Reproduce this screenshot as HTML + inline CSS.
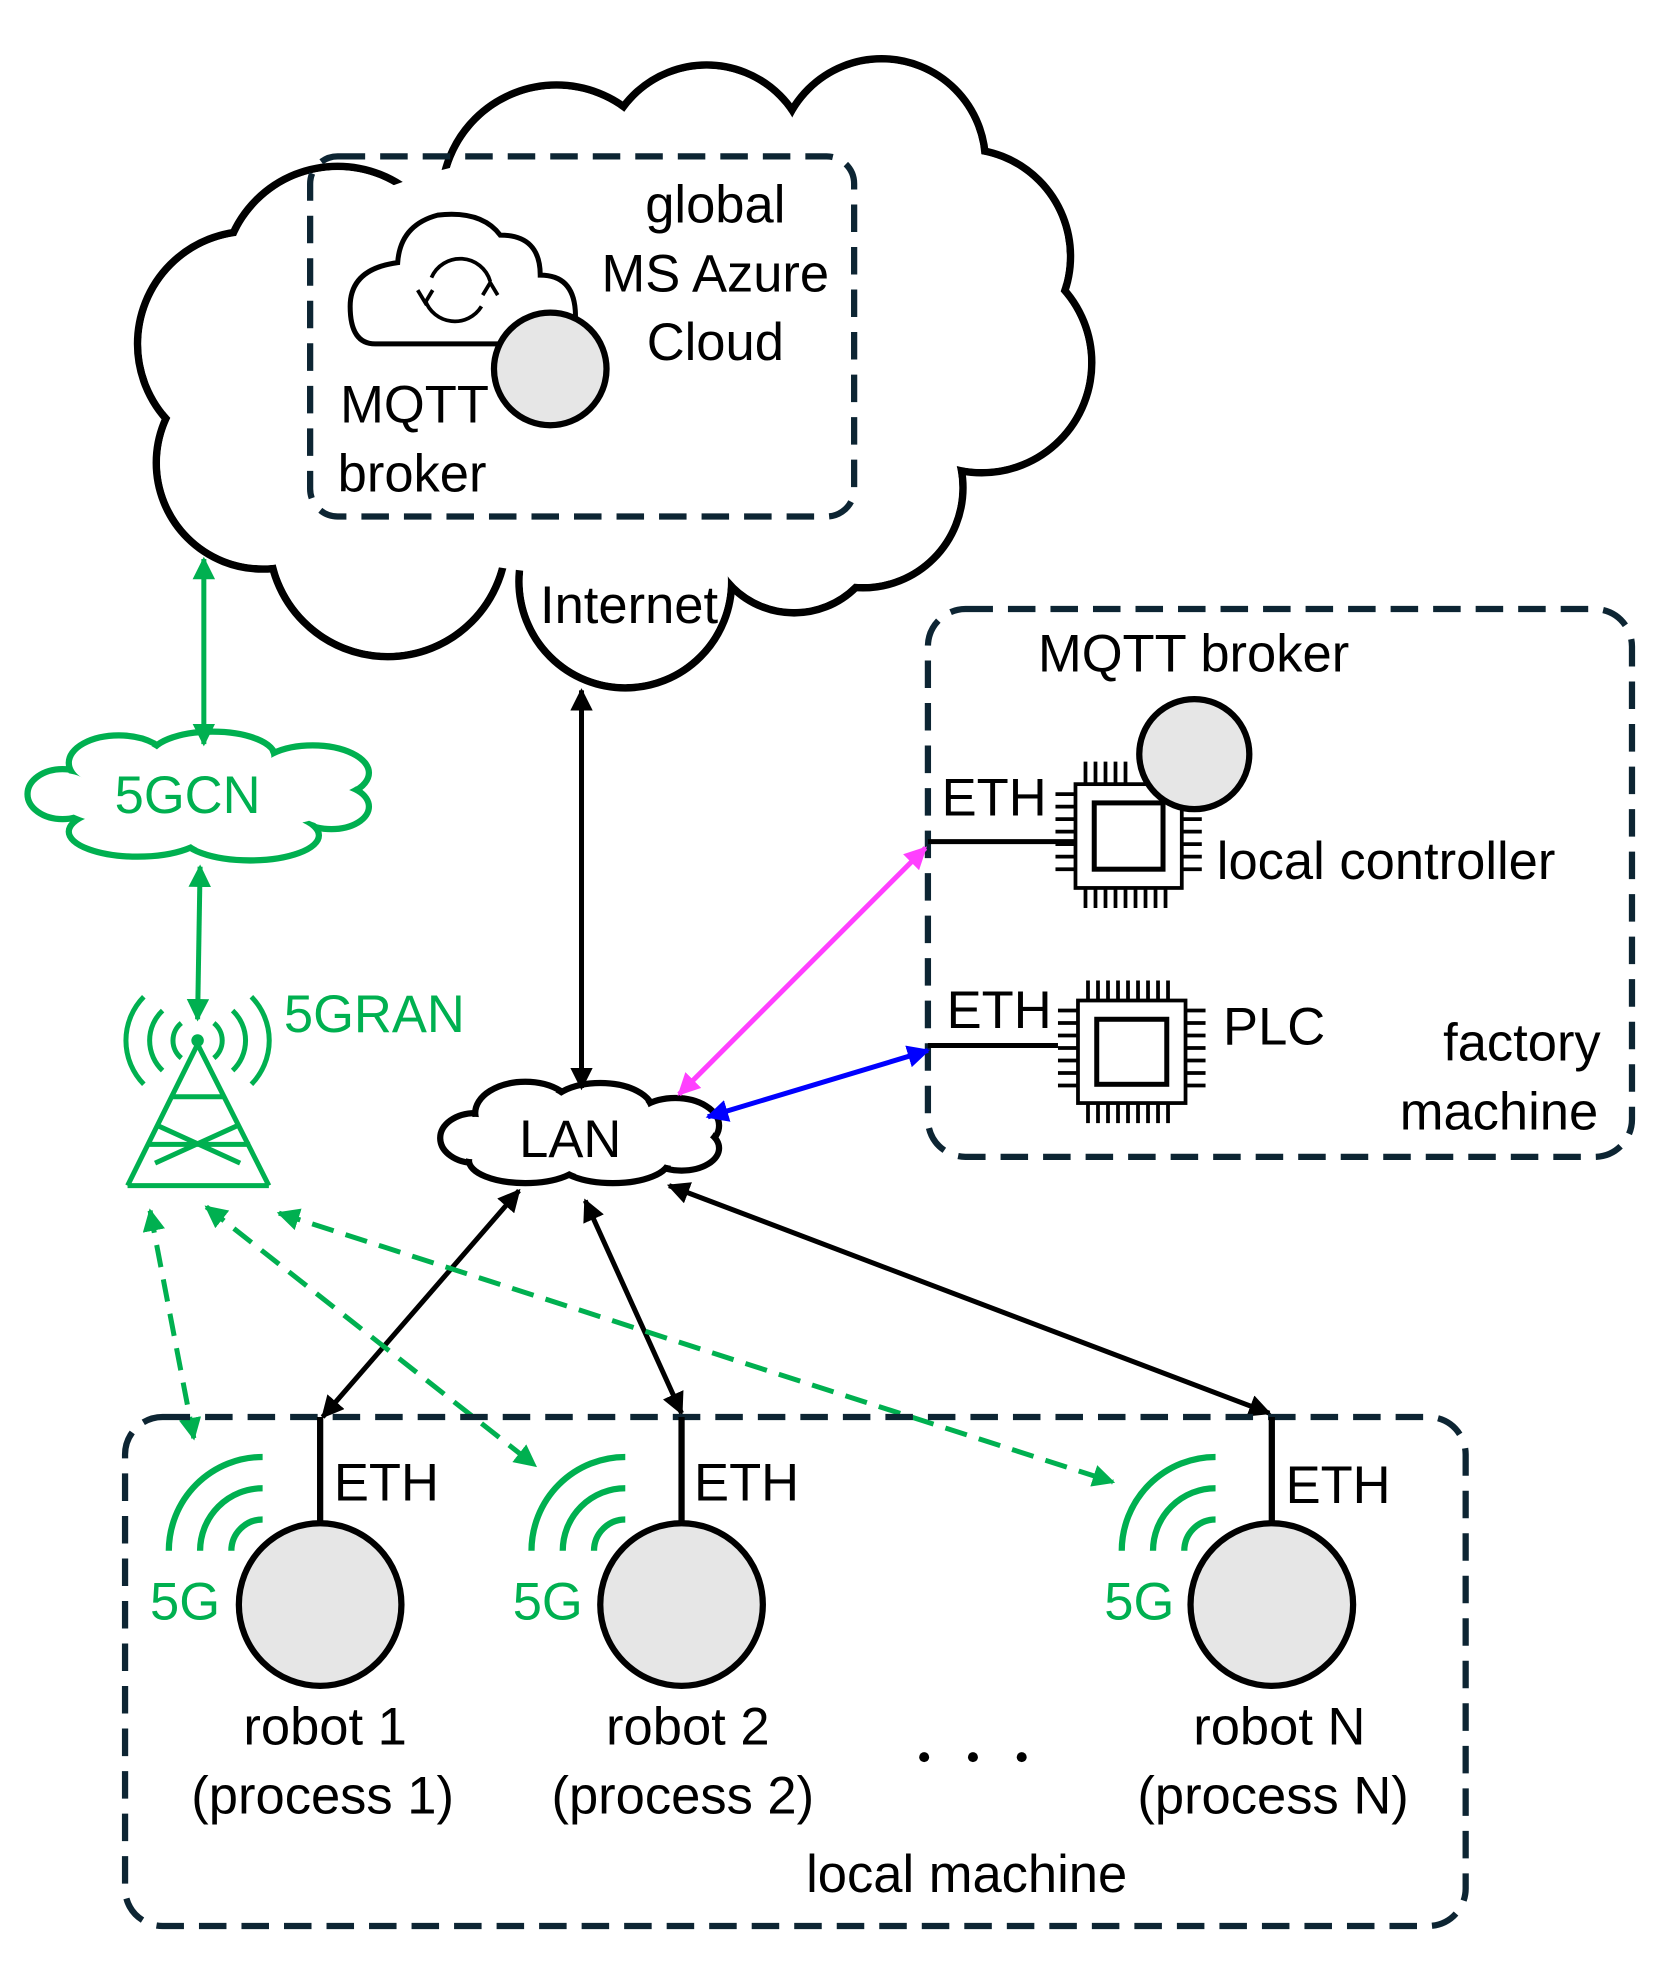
<!DOCTYPE html>
<html><head><meta charset="utf-8"><style>html,body{margin:0;padding:0;background:#fff}svg{display:block}text{font-family:"Liberation Sans",sans-serif;font-size:42px}</style></head><body>
<svg width="1672" height="1971" viewBox="0 0 1337 1576" preserveAspectRatio="none" xmlns="http://www.w3.org/2000/svg">
<defs>
<marker id="ak" viewBox="0 0 10 10" refX="9" refY="5" markerWidth="4.5" markerHeight="4.5" orient="auto-start-reverse"><path d="M0,0L10,5L0,10z" fill="#000"/></marker>
<marker id="ag" viewBox="0 0 10 10" refX="9" refY="5" markerWidth="4.5" markerHeight="4.5" orient="auto-start-reverse"><path d="M0,0L10,5L0,10z" fill="#00b050"/></marker>
<marker id="am" viewBox="0 0 10 10" refX="9" refY="5" markerWidth="4.5" markerHeight="4.5" orient="auto-start-reverse"><path d="M0,0L10,5L0,10z" fill="#ff40ff"/></marker>
<marker id="ab" viewBox="0 0 10 10" refX="9" refY="5" markerWidth="4.5" markerHeight="4.5" orient="auto-start-reverse"><path d="M0,0L10,5L0,10z" fill="#0000ff"/></marker>
</defs>
<!-- big cloud -->
<g stroke="#000" stroke-width="6" fill="#fff">
<circle cx="270" cy="225" r="92"/><circle cx="445" cy="160" r="92"/><circle cx="565" cy="135" r="83"/><circle cx="705" cy="130" r="83"/>
<circle cx="770" cy="205" r="86"/><circle cx="785" cy="290" r="88"/><circle cx="690" cy="390" r="80"/><circle cx="635" cy="420" r="70"/>
<circle cx="500" cy="465" r="85"/><circle cx="310" cy="430" r="95"/><circle cx="200" cy="275" r="90"/><circle cx="210" cy="370" r="85"/>
</g>
<g fill="#fff">
<circle cx="270" cy="225" r="89"/><circle cx="445" cy="160" r="89"/><circle cx="565" cy="135" r="80"/><circle cx="705" cy="130" r="80"/>
<circle cx="770" cy="205" r="83"/><circle cx="785" cy="290" r="85"/><circle cx="690" cy="390" r="77"/><circle cx="635" cy="420" r="67"/>
<circle cx="500" cy="465" r="82"/><circle cx="310" cy="430" r="92"/><circle cx="200" cy="275" r="87"/><circle cx="210" cy="370" r="82"/>
<ellipse cx="480" cy="290" rx="300" ry="170"/>
</g>
<rect x="248" y="125" width="435" height="288" rx="22" fill="none" stroke="#0d2533" stroke-width="5" stroke-dasharray="22 12"/>
<!-- azure icon -->
<path d="M300,275 H440 Q462,275 460,248 Q458,220 432,220 Q432,188 400,188 Q385,168 350,172 Q320,180 318,210 Q280,215 280,245 Q280,275 300,275 Z" fill="none" stroke="#000" stroke-width="4"/>
<path d="M340,240 A25,25 0 0 0 385,245 M392,225 A25,25 0 0 0 345,222" fill="none" stroke="#000" stroke-width="3"/>
<path d="M334,232 l6,10 l6,-10 M386,236 l6,-10 l6,10" fill="none" stroke="#000" stroke-width="3"/>
<circle cx="440" cy="295" r="45" fill="#e6e6e6" stroke="#000" stroke-width="5"/>
<text x="572" y="178" text-anchor="middle">global</text>
<text x="572" y="233" text-anchor="middle">MS Azure</text>
<text x="572" y="288" text-anchor="middle">Cloud</text>
<text x="272" y="338">MQTT</text>
<text x="270" y="393">broker</text>
<text x="503" y="498" text-anchor="middle">Internet</text>
<!-- factory box -->
<rect x="742" y="487" width="563" height="438" rx="30" fill="none" stroke="#0d2533" stroke-width="5" stroke-dasharray="22 12"/>
<text x="830" y="537">MQTT broker</text>
<g stroke="#000" stroke-width="3" fill="none">
<rect x="860" y="627" width="85" height="83"/><rect x="875" y="642" width="55" height="53" stroke-width="4"/>
<path d="M868,627v-18M876,627v-18M884,627v-18M892,627v-18M900,627v-18M868,710v16M876,710v16M884,710v16M892,710v16M900,710v16M908,710v16M916,710v16M924,710v16M932,710v16M860,635h-16M860,645h-16M860,655h-16M860,665h-16M860,675h-16M860,685h-16M860,695h-16M945,655h16M945,665h16M945,675h16M945,685h16M945,695h16"/>
<rect x="862" y="800" width="86" height="82"/><rect x="877" y="815" width="56" height="52" stroke-width="4"/>
<path d="M870,800v-16M878,800v-16M886,800v-16M894,800v-16M902,800v-16M910,800v-16M918,800v-16M926,800v-16M934,800v-16M870,882v16M878,882v16M886,882v16M894,882v16M902,882v16M910,882v16M918,882v16M926,882v16M934,882v16M862,808h-16M862,818h-16M862,828h-16M862,838h-16M862,848h-16M862,858h-16M862,868h-16M948,808h16M948,818h16M948,828h16M948,838h16M948,848h16M948,858h16M948,868h16"/>
</g>
<circle cx="955" cy="603" r="44" fill="#e6e6e6" stroke="#000" stroke-width="5"/>
<line x1="742" y1="673" x2="860" y2="673" stroke="#000" stroke-width="4"/>
<line x1="742" y1="836" x2="846" y2="836" stroke="#000" stroke-width="4"/>
<text x="753" y="652">ETH</text><text x="757" y="822">ETH</text>
<text x="973" y="703">local controller</text><text x="978" y="835">PLC</text>
<text x="1280" y="848" text-anchor="end">factory</text><text x="1278" y="903" text-anchor="end">machine</text>
<!-- LAN cloud -->
<g stroke="#000" stroke-width="5" fill="#fff">
<ellipse cx="380" cy="910" rx="28" ry="20"/><ellipse cx="420" cy="890" rx="40" ry="25"/><ellipse cx="480" cy="888" rx="42" ry="22"/><ellipse cx="540" cy="900" rx="35" ry="22"/><ellipse cx="545" cy="918" rx="30" ry="18"/><ellipse cx="490" cy="928" rx="45" ry="18"/><ellipse cx="420" cy="928" rx="45" ry="18"/>
</g>
<g fill="#fff"><ellipse cx="380" cy="910" rx="25" ry="17"/><ellipse cx="420" cy="890" rx="37" ry="22"/><ellipse cx="480" cy="888" rx="39" ry="19"/><ellipse cx="540" cy="900" rx="32" ry="19"/><ellipse cx="545" cy="918" rx="27" ry="15"/><ellipse cx="490" cy="928" rx="42" ry="15"/><ellipse cx="420" cy="928" rx="42" ry="15"/><ellipse cx="465" cy="908" rx="90" ry="22"/></g>
<text x="456" y="925" text-anchor="middle">LAN</text>
<!-- 5GCN cloud -->
<g stroke="#00b050" stroke-width="5" fill="#fff">
<ellipse cx="50" cy="635" rx="28" ry="20"/><ellipse cx="95" cy="610" rx="40" ry="22"/><ellipse cx="170" cy="605" rx="50" ry="20"/><ellipse cx="250" cy="618" rx="45" ry="22"/><ellipse cx="265" cy="645" rx="30" ry="18"/><ellipse cx="200" cy="668" rx="55" ry="20"/><ellipse cx="110" cy="665" rx="55" ry="20"/>
</g>
<g fill="#fff"><ellipse cx="50" cy="635" rx="25" ry="17"/><ellipse cx="95" cy="610" rx="37" ry="19"/><ellipse cx="170" cy="605" rx="47" ry="17"/><ellipse cx="250" cy="618" rx="42" ry="19"/><ellipse cx="265" cy="645" rx="27" ry="15"/><ellipse cx="200" cy="668" rx="52" ry="17"/><ellipse cx="110" cy="665" rx="52" ry="17"/><ellipse cx="160" cy="638" rx="115" ry="28"/></g>
<text x="150" y="650" text-anchor="middle" fill="#00b050">5GCN</text>
<!-- tower -->
<g stroke="#00b050" stroke-width="4" fill="none">
<path d="M158,835 L102,948 M158,835 L215,948 M102,948 L215,948 M137,877 L180,877 M126,900 L192,930 M190,900 L124,930 M118,915 L200,915"/>
<path d="M145,818 A18,18 0 0 0 145,846 M171,818 A18,18 0 0 1 171,846 M130,808 A33,33 0 0 0 130,856 M186,808 A33,33 0 0 1 186,856 M115,797 A50,50 0 0 0 115,867 M201,797 A50,50 0 0 1 201,867"/>
</g>
<circle cx="158" cy="832" r="5" fill="#00b050"/>
<text x="227" y="825" fill="#00b050">5GRAN</text>
<!-- arrows -->
<g stroke-width="4" fill="none">
<line x1="163" y1="447" x2="163" y2="595" stroke="#00b050" marker-start="url(#ag)" marker-end="url(#ag)"/>
<line x1="160" y1="693" x2="158" y2="815" stroke="#00b050" marker-start="url(#ag)" marker-end="url(#ag)"/>
<line x1="465" y1="552" x2="465" y2="870" stroke="#000" marker-start="url(#ak)" marker-end="url(#ak)"/>
<line x1="740" y1="678" x2="543" y2="875" stroke="#ff40ff" marker-start="url(#am)" marker-end="url(#am)"/>
<line x1="742" y1="840" x2="566" y2="893" stroke="#0000ff" marker-start="url(#ab)" marker-end="url(#ab)"/>
<line x1="415" y1="952" x2="258" y2="1133" stroke="#000" marker-start="url(#ak)" marker-end="url(#ak)"/>
<line x1="468" y1="960" x2="545" y2="1130" stroke="#000" marker-start="url(#ak)" marker-end="url(#ak)"/>
<line x1="535" y1="948" x2="1015" y2="1130" stroke="#000" marker-start="url(#ak)" marker-end="url(#ak)"/>
<g stroke="#00b050" stroke-dasharray="18 10">
<line x1="120" y1="968" x2="155" y2="1150" marker-start="url(#ag)" marker-end="url(#ag)"/>
<line x1="165" y1="965" x2="428" y2="1172" marker-start="url(#ag)" marker-end="url(#ag)"/>
<line x1="223" y1="970" x2="890" y2="1185" marker-start="url(#ag)" marker-end="url(#ag)"/>
</g>
</g>
<!-- local machine -->
<rect x="100" y="1133" width="1072" height="407" rx="30" fill="none" stroke="#0d2533" stroke-width="5" stroke-dasharray="22 12"/>
<g stroke="#000" stroke-width="5"><line x1="256" y1="1133" x2="256" y2="1218"/><line x1="545" y1="1133" x2="545" y2="1218"/><line x1="1017" y1="1133" x2="1017" y2="1218"/></g>
<g fill="#e6e6e6" stroke="#000" stroke-width="5"><circle cx="256" cy="1283" r="65"/><circle cx="545" cy="1283" r="65"/><circle cx="1017" cy="1283" r="65"/></g>
<g stroke="#00b050" stroke-width="5" fill="none">
<path d="M135,1240 A75,75 0 0 1 210,1165 M160,1240 A50,50 0 0 1 210,1190 M185,1240 A25,25 0 0 1 210,1215"/>
<path d="M425,1240 A75,75 0 0 1 500,1165 M450,1240 A50,50 0 0 1 500,1190 M475,1240 A25,25 0 0 1 500,1215"/>
<path d="M897,1240 A75,75 0 0 1 972,1165 M922,1240 A50,50 0 0 1 972,1190 M947,1240 A25,25 0 0 1 972,1215"/>
</g>
<g fill="#00b050"><text x="120" y="1295">5G</text><text x="410" y="1295">5G</text><text x="883" y="1295">5G</text></g>
<text x="267" y="1200">ETH</text><text x="555" y="1200">ETH</text><text x="1028" y="1202">ETH</text>
<g text-anchor="middle">
<text x="260" y="1395">robot 1</text><text x="258" y="1450">(process 1)</text>
<text x="550" y="1395">robot 2</text><text x="546" y="1450">(process 2)</text>
<text x="1023" y="1395">robot N</text><text x="1018" y="1450">(process N)</text>
<text x="773" y="1513">local machine</text>
</g>
<g fill="#000"><circle cx="739" cy="1405" r="4"/><circle cx="778" cy="1405" r="4"/><circle cx="817" cy="1405" r="4"/></g>
</svg>
</body></html>
